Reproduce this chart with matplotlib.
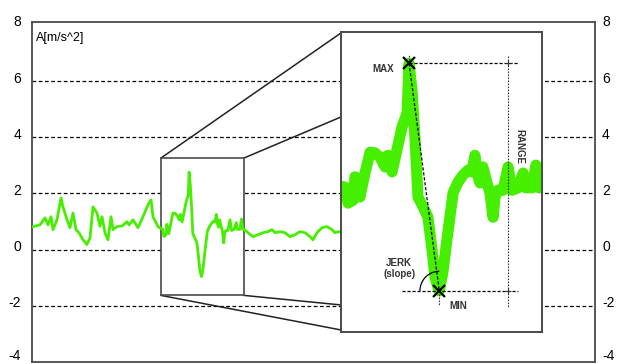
import matplotlib
matplotlib.use("Agg")
import matplotlib.pyplot as plt
import matplotlib.transforms as mtransforms
from matplotlib.patches import Rectangle, Arc
import numpy as np

plt.rcParams['font.family'] = ['Liberation Sans', 'DejaVu Sans']
plt.rcParams['axes.unicode_minus'] = False

# acceleration signal, time in samples, A in m/s^2
t_before = [1, 8, 13, 16, 19, 21, 25, 29, 31, 35, 38, 41, 44, 47, 51, 55, 58, 61, 65, 68,
            70, 73, 76, 79, 81, 85, 90, 95, 97, 101, 106, 111, 116, 119, 121, 126]
a_before = [0.82, 0.88, 1.13, 0.88, 1.17, 0.71, 1.06, 1.84, 1.52, 1.06, 0.78, 1.3, 0.71, 0.6,
            0.35, 0.18, 0.42, 1.52, 1.3, 0.83, 1.17, 0.6, 0.35, 1.17, 0.71, 0.82, 0.84, 0.99,
            0.88, 1.06, 0.78, 1.17, 1.59, 1.77, 1.17, 0.82]

# the zoomed window (the event)
t_event = [129, 130.7, 131.9, 134.0, 134.8, 136.8, 138.9, 141.0, 143.0, 145.1, 147.2, 148.4,
           150.1, 152.1, 154.2, 156.3, 157.1, 158.3, 159.6, 160.8, 162.9, 164.9, 166.6, 167.8,
           169.1, 169.6, 171.1, 172.5, 174.0, 175.3, 177.3, 179.4, 181.5, 183.1, 184.3, 185.2,
           186.4, 187.6, 189.3, 190.5, 191.8, 192.6, 193.8, 195.9, 198.0, 199.6, 202.1, 204.2,
           205.4, 207.9, 209.5, 210.8, 212]
a_event = [0.75, 0.73, 0.47, 0.52, 0.90, 0.57, 0.96, 1.30, 1.29, 1.22, 1.06, 1.25,
           0.98, 1.34, 1.71, 1.94, 2.75, 2.31, 1.50, 0.57, 0.41, 0.24, -0.29, -0.73,
           -0.91, -0.96, -0.65, -0.20, 0.25, 0.64, 0.81, 0.93, 1.01, 0.98, 1.25, 0.96,
           0.80, 1.06, 0.80, 0.64, 0.24, 0.57, 0.68, 0.68, 1.06, 0.68, 0.72, 0.96,
           0.72, 0.72, 1.09, 0.72, 0.72]

t_after = [216, 221, 226, 231, 236, 240, 243, 248, 253, 258, 263, 268, 273, 278, 281, 285,
           290, 295, 300, 303, 307, 309]
a_after = [0.6, 0.46, 0.53, 0.6, 0.64, 0.71, 0.6, 0.64, 0.6, 0.46, 0.53, 0.64, 0.6, 0.46,
           0.35, 0.6, 0.78, 0.82, 0.71, 0.6, 0.64, 0.62]

yticks = [-4, -2, 0, 2, 4, 6, 8]
grid_levels = [-2, 0, 2, 4, 6]
win = (129, 212, -1.63, 3.26)   # zoom window t0, t1, a0, a1
range_t = 198.0

green = '#46ee00'
frame = '#4a4a4a'
W, H = 617, 364

fig = plt.figure(figsize=(W / 100, H / 100), dpi=100)
ax = fig.add_axes([32 / W, 2 / H, 563 / W, 340 / H])
ax.set_xlim(0, 563)
ax.set_ylim(-4, 8.1)
ax.set_xticks([])
ax.set_yticks(yticks)
ax.tick_params(axis='y', length=0, labelsize=10, pad=8, labelright=True)
for s in ax.spines.values():
    s.set_color(frame)
    s.set_linewidth(1.3)

for g in grid_levels:
    ax.axhline(g, color='black', lw=0.9, ls=(0, (3, 2)), zorder=1)

t_all = t_before + t_event + t_after
a_all = a_before + a_event + a_after
ax.plot(t_all, a_all, color=green, lw=2.0, solid_joinstyle='round', zorder=4)

# small window box
ax.add_patch(Rectangle((win[0], win[2]), win[1] - win[0], win[3] - win[2],
                       facecolor='white', edgecolor=frame, lw=1.2, zorder=3))

# connector lines to the inset
x_in = 309
for (x0, y0), y1 in [((win[0], win[3]), 7.71), ((win[1], win[3]), 4.72),
                     ((win[0], win[2]), -2.86), ((win[1], win[2]), -1.97)]:
    ax.plot([x0, x_in], [y0, y1], color='#222222', lw=1.1, zorder=2)

ax.text(4, 7.75, 'A[m/s^2]', fontsize=9, va='top', ha='left')

# magnified inset
ins = fig.add_axes([341 / W, 32 / H, 201 / W, 300 / H])
ins.set_xlim(win[0], win[1])
ins.set_ylim(win[2], win[3])
ins.set_xticks([])
ins.set_yticks([])
for s in ins.spines.values():
    s.set_color(frame)
    s.set_linewidth(1.4)
ins.plot(t_event, a_event, color=green, lw=8, solid_joinstyle='round',
         solid_capstyle='butt', zorder=2)

te = np.array(t_event)
ae = np.array(a_event)
imax, imin = ae.argmax(), ae.argmin()
tmax, amax = te[imax], ae[imax]
tmin, amin = te[imin], ae[imin]

dash = dict(color='black', lw=0.9, ls=(0, (2.5, 1.5)), zorder=3)
dots = dict(color='#333333', lw=0.8, ls=(0, (1.5, 1.2)), zorder=3)
ins.plot([tmax, tmin], [amax, amin], **dash)
ins.plot([tmax, 202.1], [amax, amax], **dash)
ins.plot([154.2, 202.1], [amin, amin], **dash)
ins.plot([range_t, range_t], [2.87, -1.22], **dots)
ins.plot([tmax, tmax], [amax, 2.9], **dots)
ins.plot([tmin, tmin], [amin, -1.19], **dots)
ins.plot([range_t, range_t], [amax, amin], ls='none', marker='+', ms=5, mew=0.8,
         color='#333333', zorder=4)
ins.plot([tmax, tmin], [amax, amin], ls='none', marker='x', ms=8, mew=1.6,
         color='black', zorder=5)
ins.add_patch(Arc((tmin, amin), 2 * 8.0, 2 * 0.32, theta1=97, theta2=180,
                  color='black', lw=0.9, zorder=4))

lab = dict(fontsize=7, fontweight='bold', color='#333333')
ins.text(146.3, 2.66, 'MAX', ha='center', va='center', **lab)
ins.text(177.3, -1.21, 'MIN', ha='center', va='center', **lab)
ins.text(153.0, -0.59, 'JERK\n(slope)', ha='center', va='center', linespacing=1.1, **lab)
ins.text(202.6, 1.40, 'RANGE', ha='center', va='center', rotation=-90, **lab)

# tick labels sit a little above their gridlines in the reference;
# the bottom one is lifted a bit more so it stays inside the picture
for val, tick in zip(yticks, ax.yaxis.get_major_ticks()):
    dy = 8 if val == yticks[0] else 4
    up = mtransforms.ScaledTranslation(0, dy / 100, fig.dpi_scale_trans)
    up_left = mtransforms.ScaledTranslation(-4 / 100, dy / 100, fig.dpi_scale_trans)
    tick.label1.set_transform(tick.label1.get_transform() + up)
    tick.label2.set_transform(tick.label2.get_transform() + up_left)

fig.savefig('out.png', dpi=100)
